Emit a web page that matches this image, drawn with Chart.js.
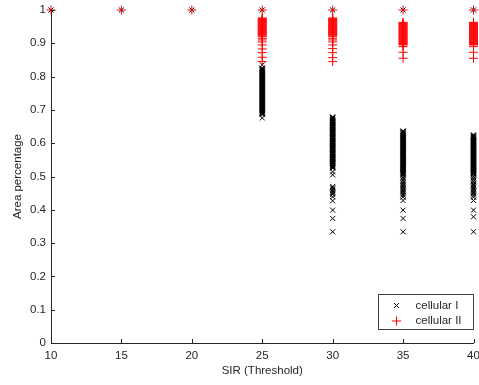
<!DOCTYPE html>
<html>
<head>
<meta charset="utf-8">
<script src="https://cdn.jsdelivr.net/npm/chart.js@4"></script>
<style>
  html, body { margin: 0; padding: 0; background: #ffffff; }
  canvas { display: block; }
</style>
</head>
<body>
<canvas id="c" width="479" height="385"></canvas>
<script>
// ---- Data ----
const sirCategories = [10, 15, 20, 25, 30, 35, 40];
const xTickValues = [10, 15, 20, 25, 30, 35, 40];
const xTickLabels = ['10', '15', '20', '25', '30', '35', '40'];
const yTickValues = [0, 0.1, 0.2, 0.3, 0.4, 0.5, 0.6, 0.7, 0.8, 0.9, 1];
const yTickLabels = ['0', '0.1', '0.2', '0.3', '0.4', '0.5', '0.6', '0.7', '0.8', '0.9', '1'];
const seriesNames = ['cellular I', 'cellular II'];

// cellular I (black x markers), per SIR threshold (dense runs read as closely packed samples)
const cellI_10 = [1];
const cellI_15 = [1];
const cellI_20 = [1];
const cellI_25 = [1, 0.835,
  0.826, 0.824, 0.822, 0.820, 0.818, 0.816, 0.814, 0.812, 0.810, 0.808, 0.806, 0.804, 0.802, 0.800,
  0.798, 0.796, 0.794, 0.792, 0.790, 0.788, 0.786, 0.784, 0.782, 0.780, 0.778, 0.776, 0.774, 0.772,
  0.770, 0.768, 0.766, 0.764, 0.762, 0.760, 0.758, 0.756, 0.754, 0.752, 0.750, 0.748, 0.746, 0.744,
  0.742, 0.740, 0.738, 0.736, 0.734, 0.732, 0.730, 0.728, 0.726, 0.724, 0.722, 0.720, 0.718, 0.716,
  0.714, 0.712, 0.710, 0.708, 0.706, 0.704, 0.702, 0.700, 0.698, 0.696, 0.694, 0.692, 0.690, 0.688,
  0.686, 0.676];
const cellI_30 = [1,
  0.679, 0.677, 0.675, 0.673, 0.671, 0.669, 0.667, 0.665, 0.663, 0.661, 0.659, 0.657, 0.655, 0.653,
  0.651, 0.649, 0.647, 0.645, 0.643, 0.641, 0.639, 0.637, 0.635, 0.633, 0.631, 0.629, 0.627, 0.625,
  0.623, 0.621, 0.619, 0.617, 0.615, 0.613, 0.611, 0.609, 0.607, 0.605, 0.603, 0.601, 0.599, 0.597,
  0.595, 0.593, 0.591, 0.589, 0.587, 0.585, 0.583, 0.581, 0.579, 0.577, 0.575, 0.573, 0.571, 0.569,
  0.567, 0.565, 0.563, 0.561, 0.559, 0.557, 0.555, 0.553, 0.551, 0.549, 0.547, 0.545, 0.543, 0.541,
  0.539, 0.537, 0.535, 0.533, 0.531, 0.529, 0.527, 0.525,
  0.514, 0.505, 0.470, 0.466, 0.462, 0.458, 0.454, 0.450, 0.446, 0.439, 0.427,
  0.399, 0.374, 0.334];
const cellI_35 = [1,
  0.637, 0.635, 0.633, 0.631, 0.629, 0.627, 0.625, 0.623, 0.621, 0.619, 0.617, 0.615, 0.613, 0.611,
  0.609, 0.607, 0.605, 0.603, 0.601, 0.599, 0.597, 0.595, 0.593, 0.591, 0.589, 0.587, 0.585, 0.583,
  0.581, 0.579, 0.577, 0.575, 0.573, 0.571, 0.569, 0.567, 0.565, 0.563, 0.561, 0.559, 0.557, 0.555,
  0.553, 0.551, 0.549, 0.547, 0.545, 0.543, 0.541, 0.539, 0.537, 0.535, 0.533, 0.531, 0.529, 0.527,
  0.525, 0.523, 0.521, 0.519, 0.517, 0.515, 0.513, 0.511, 0.509, 0.507, 0.505,
  0.500, 0.495, 0.490, 0.485, 0.480, 0.476, 0.472, 0.468, 0.464, 0.460, 0.456, 0.452, 0.448, 0.444,
  0.438, 0.428, 0.399, 0.374, 0.334];
const cellI_40 = [1,
  0.625, 0.623, 0.621, 0.619, 0.617, 0.615, 0.613, 0.611, 0.609, 0.607, 0.605, 0.603, 0.601, 0.599,
  0.597, 0.595, 0.593, 0.591, 0.589, 0.587, 0.585, 0.583, 0.581, 0.579, 0.577, 0.575, 0.573, 0.571,
  0.569, 0.567, 0.565, 0.563, 0.561, 0.559, 0.557, 0.555, 0.553, 0.551, 0.549, 0.547, 0.545, 0.543,
  0.541, 0.539, 0.537, 0.535, 0.533, 0.531, 0.529, 0.527, 0.525, 0.523, 0.521, 0.519, 0.517, 0.515,
  0.513, 0.511, 0.509, 0.507, 0.505,
  0.500, 0.495, 0.490, 0.485, 0.480, 0.476, 0.472, 0.468, 0.464, 0.460, 0.456, 0.452, 0.448, 0.444,
  0.438, 0.428, 0.399, 0.379, 0.334];

// cellular II (red + markers), per SIR threshold
const cellII_10 = [1];
const cellII_15 = [1];
const cellII_20 = [1];
const cellII_25 = [1,
  0.976, 0.974, 0.972, 0.970, 0.968, 0.966, 0.964, 0.962, 0.960, 0.958, 0.956, 0.954, 0.952, 0.950,
  0.948, 0.946, 0.944, 0.942, 0.940, 0.938, 0.936, 0.934, 0.932, 0.930, 0.928, 0.926, 0.924,
  0.920, 0.915, 0.910, 0.904, 0.895, 0.883, 0.872, 0.858, 0.845];
const cellII_30 = [1,
  0.976, 0.974, 0.972, 0.970, 0.968, 0.966, 0.964, 0.962, 0.960, 0.958, 0.956, 0.954, 0.952, 0.950,
  0.948, 0.946, 0.944, 0.942, 0.940, 0.938, 0.936, 0.934, 0.932, 0.930, 0.928, 0.926, 0.924,
  0.920, 0.915, 0.910, 0.904, 0.895, 0.884, 0.872, 0.857, 0.845];
const cellII_35 = [1,
  0.963, 0.961, 0.959, 0.957, 0.955, 0.953, 0.951, 0.949, 0.947, 0.945, 0.943, 0.941, 0.939, 0.937,
  0.935, 0.933, 0.931, 0.929, 0.927, 0.925, 0.923, 0.921, 0.919, 0.917, 0.915, 0.913, 0.911, 0.909,
  0.907, 0.905, 0.903, 0.901, 0.899, 0.897, 0.895,
  0.890, 0.873, 0.855];
const cellII_40 = [1,
  0.963, 0.961, 0.959, 0.957, 0.955, 0.953, 0.951, 0.949, 0.947, 0.945, 0.943, 0.941, 0.939, 0.937,
  0.935, 0.933, 0.931, 0.929, 0.927, 0.925, 0.923, 0.921, 0.919, 0.917, 0.915, 0.913, 0.911, 0.909,
  0.907, 0.905, 0.903, 0.901, 0.899, 0.897, 0.895,
  0.890, 0.873, 0.855];

const cellularI = [cellI_10, cellI_15, cellI_20, cellI_25, cellI_30, cellI_35, cellI_40];
const cellularII = [cellII_10, cellII_15, cellII_20, cellII_25, cellII_30, cellII_35, cellII_40];

// ---- Build scatter points from the arrays ----
function toPoints(columns) {
  const pts = [];
  columns.forEach((vals, i) => vals.forEach(v => pts.push({ x: sirCategories[i], y: v })));
  return pts;
}

const FONT = "'Liberation Sans', Arial, Helvetica, sans-serif";
const textColor = '#262626';
const axisColor = '#262626';

const decor = {
  id: 'decor',
  afterDraw(chart) {
    const { ctx, chartArea: a, scales: { x, y } } = chart;
    ctx.save();
    // inward tick marks
    ctx.strokeStyle = axisColor;
    ctx.lineWidth = 1;
    ctx.beginPath();
    y.ticks.forEach(t => {
      const py = Math.round(y.getPixelForValue(t.value)) + 0.5;
      ctx.moveTo(a.left, py); ctx.lineTo(a.left + 4, py);
    });
    x.ticks.forEach(t => {
      const px = Math.round(x.getPixelForValue(t.value)) + 0.5;
      ctx.moveTo(px, a.bottom); ctx.lineTo(px, a.bottom - 4);
    });
    ctx.stroke();

    // legend box (inside, bottom right)
    const bw = 95, bh = 35;
    const bx = Math.round(a.right - 1 - bw) + 0.5;
    const by = Math.round(a.bottom - 14 - bh) + 0.5;
    ctx.fillStyle = '#ffffff';
    ctx.fillRect(bx, by, bw, bh);
    ctx.strokeStyle = '#404040';
    ctx.strokeRect(bx, by, bw, bh);

    const mx = bx + 18;
    const r1 = by + 11, r2 = by + 26.5;
    ctx.strokeStyle = '#000000';
    ctx.beginPath();
    const d = 2.5;
    ctx.moveTo(mx - d, r1 - d); ctx.lineTo(mx + d, r1 + d);
    ctx.moveTo(mx - d, r1 + d); ctx.lineTo(mx + d, r1 - d);
    ctx.stroke();
    ctx.strokeStyle = '#ff0000';
    ctx.beginPath();
    ctx.moveTo(mx - 4.5, r2); ctx.lineTo(mx + 4.5, r2);
    ctx.moveTo(mx, r2 - 4.5); ctx.lineTo(mx, r2 + 4.5);
    ctx.stroke();

    ctx.fillStyle = textColor;
    ctx.font = '11.5px ' + FONT;
    ctx.textBaseline = 'middle';
    ctx.textAlign = 'left';
    ctx.fillText(seriesNames[0], bx + 37, r1);
    ctx.fillText(seriesNames[1], bx + 37, r2);
    ctx.restore();
  }
};

new Chart(document.getElementById('c'), {
  type: 'scatter',
  data: {
    datasets: [
      {
        label: seriesNames[1],
        data: toPoints(cellularII),
        pointStyle: 'cross',
        pointRadius: 4.5,
        pointHoverRadius: 4.5,
        pointBorderWidth: 1,
        borderColor: '#ff0000',
        backgroundColor: '#ff0000',
        clip: false,
        order: 0
      },
      {
        label: seriesNames[0],
        data: toPoints(cellularI),
        pointStyle: 'crossRot',
        pointRadius: 3.6,
        pointHoverRadius: 3.6,
        pointBorderWidth: 1,
        borderColor: '#000000',
        backgroundColor: '#000000',
        clip: false,
        order: 1
      }
    ]
  },
  options: {
    responsive: false,
    animation: false,
    events: [],
    layout: { padding: { left: 0, right: 5, top: 10, bottom: 0 } },
    plugins: {
      legend: { display: false },
      tooltip: { enabled: false }
    },
    scales: {
      x: {
        type: 'linear',
        min: 10, max: 40,
        grid: { display: false, drawTicks: false },
        border: { display: true, color: axisColor, width: 1 },
        afterBuildTicks: s => { s.ticks = xTickValues.map(v => ({ value: v })); },
        ticks: {
          padding: 6,
          color: textColor,
          font: { family: FONT, size: 11.5 },
          maxRotation: 0,
          autoSkip: false,
          callback: (v, i) => xTickLabels[i]
        },
        title: {
          display: true,
          text: 'SIR (Threshold)',
          color: textColor,
          font: { family: FONT, size: 11.5 },
          padding: { top: 0, bottom: 7 }
        },
        afterFit: s => { s.height = 42; s.paddingLeft = 0; s.paddingRight = 0; }
      },
      y: {
        type: 'linear',
        min: 0, max: 1,
        grid: { display: false, drawTicks: false },
        border: { display: true, color: axisColor, width: 1 },
        afterBuildTicks: s => { s.ticks = yTickValues.map(v => ({ value: v })); },
        ticks: {
          padding: 5,
          color: textColor,
          font: { family: FONT, size: 11.5 },
          autoSkip: false,
          callback: (v, i) => yTickLabels[i]
        },
        title: {
          display: true,
          text: 'Area percentage',
          color: textColor,
          font: { family: FONT, size: 11.5 },
          padding: { top: 11, bottom: 0 }
        },
        afterFit: s => { s.width = 51; s.paddingTop = 0; s.paddingBottom = 0; }
      }
    }
  },
  plugins: [decor]
});
</script>
</body>
</html>
